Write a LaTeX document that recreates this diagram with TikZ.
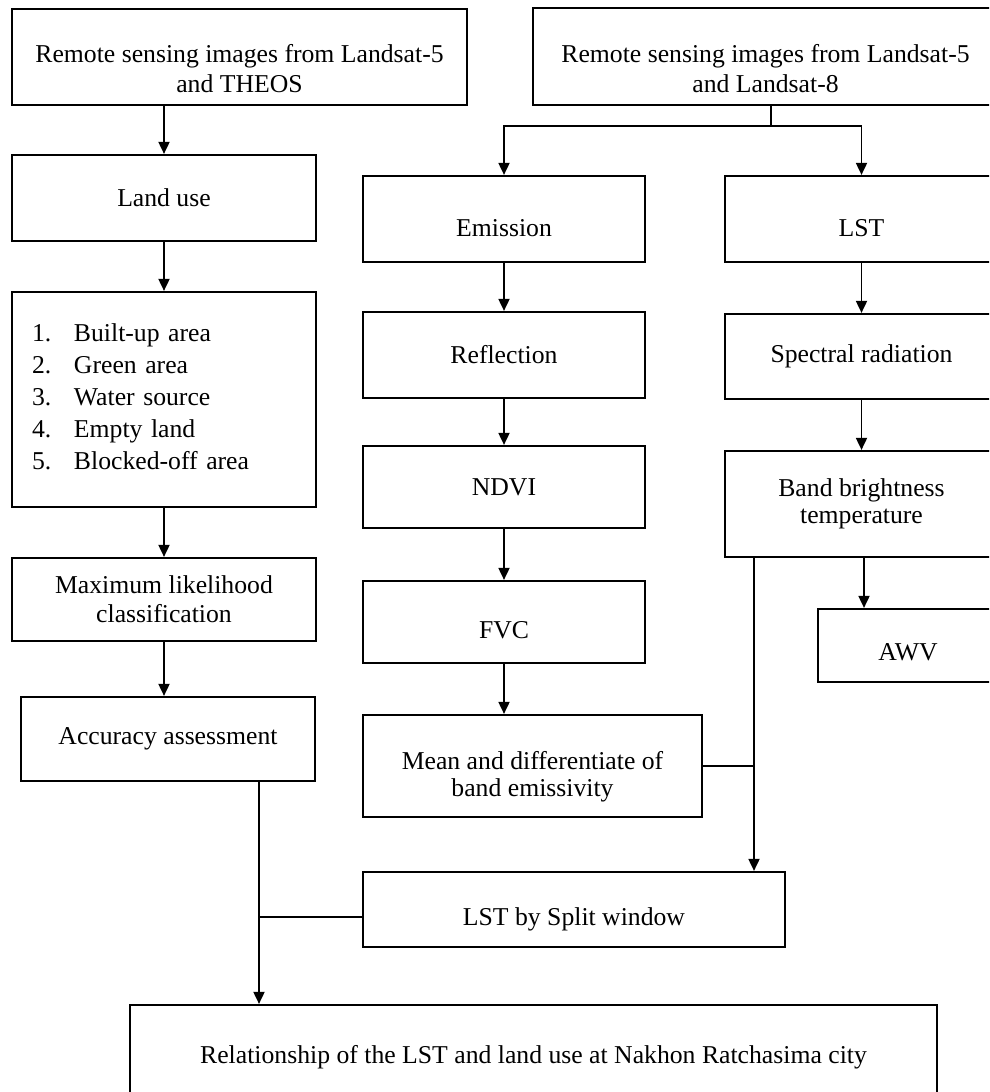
\documentclass[tikz,border=0pt]{standalone}
\usepackage{fontspec}
\setmainfont{Liberation Serif}
\usetikzlibrary{arrows.meta}
\newcommand{\lowtext}[2]{\raisebox{#1}[0pt][0pt]{\begin{tabular}{@{}c@{}}#2\end{tabular}}}
\begin{document}
\begin{tikzpicture}[x=1pt,y=-1pt,
  box/.style={draw, line width=2.2pt, inner sep=0pt, align=center,
    font=\fontsize{25.7}{29}\selectfont},
  lowered/.style={text height=#1, text depth=0pt},
  conn/.style={line width=1.8pt},
  arr/.style={conn, -{Triangle[length=12pt,width=11pt]}}]
\useasboundingbox (0,0) rectangle (989,1092);
\fill[white] (0,0) rectangle (989,1092);
\clip (0,0) rectangle (989,1092);

% left column
\node[box, minimum width=455, minimum height=96, font=\fontsize{25.7}{30}\selectfont] (A) at (239.5,57)
  {\lowtext{-21pt}{Remote sensing images from Landsat-5\\and THEOS}};
\node[box, minimum width=304, minimum height=86] (landuse) at (164,198) {Land use};
\node[box, minimum width=304, minimum height=215, text width=264, inner xsep=20pt, align=left,
  font=\fontsize{25.7}{32}\selectfont] (list) at (164,399.5)
  {\begin{tabular}{@{}l@{}l@{}}
   \makebox[42pt][l]{1.}&Built-up area\\
   \makebox[42pt][l]{2.}&Green area\\
   \makebox[42pt][l]{3.}&Water source\\
   \makebox[42pt][l]{4.}&Empty land\\
   \makebox[42pt][l]{5.}&Blocked-off area
   \end{tabular}};
\node[box, minimum width=304, minimum height=83] (maxl) at (164,599.5) {Maximum likelihood\\classification};
\node[box, minimum width=294, minimum height=84] (acc) at (168,739) {Accuracy assessment};

% right top
\node[box, minimum width=465, minimum height=97, font=\fontsize{25.7}{30}\selectfont] (B) at (765.5,56.5)
  {\lowtext{-21pt}{Remote sensing images from Landsat-5\\and Landsat-8}};

% middle column
\node[box, lowered=34pt, minimum width=282, minimum height=86] (emission) at (504,219) {Emission};
\node[box, minimum width=282, minimum height=86] (reflection) at (504,355) {Reflection};
\node[box, minimum width=282, minimum height=82] (ndvi) at (504,487) {NDVI};
\node[box, lowered=32pt, minimum width=282, minimum height=82] (fvc) at (504,622) {FVC};
\node[box, minimum width=339, minimum height=102, font=\fontsize{25.7}{27}\selectfont] (mean) at (532.5,766)
  {\lowtext{-18pt}{Mean and differentiate of\\band emissivity}};
\node[box, lowered=31pt, minimum width=422, minimum height=75] (split) at (574,909.5) {LST by Split window};

% right column
\node[box, lowered=34pt, minimum width=273, minimum height=86] (lst) at (861.5,219) {LST};
\node[box, minimum width=273, minimum height=85] (spectral) at (861.5,356.5) {Spectral radiation};
\node[box, minimum width=273, minimum height=106, font=\fontsize{25.7}{27}\selectfont] (band) at (861.5,504) {Band brightness\\temperature};
\node[box, lowered=29pt, minimum width=180, minimum height=73] (awv) at (908,645.5) {AWV};

% final
\node[box, minimum width=807, minimum height=105] (final) at (533.5,1057.5) {Relationship of the LST and land use at Nakhon Ratchasima city};

% connectors: left column
\draw[arr] (A.south -| landuse.north) -- (landuse.north);
\draw[arr] (landuse.south) -- (list.north);
\draw[arr] (list.south) -- (maxl.north);
\draw[arr] (maxl.south) -- (maxl.south |- acc.north);

% split from B
\coordinate (bsplit) at (771,126);
\draw[conn] (B.south -| bsplit) -- (bsplit);
\draw[arr] (bsplit) -| (emission.north);
\draw[arr] (bsplit) -| (lst.north);

% middle column
\draw[arr] (emission.south) -- (reflection.north);
\draw[arr] (reflection.south) -- (ndvi.north);
\draw[arr] (ndvi.south) -- (fvc.north);
\draw[arr] (fvc.south) -- (fvc.south |- mean.north);

% right column
\draw[arr] (lst.south) -- (spectral.north);
\draw[arr] (spectral.south) -- (band.north);
\draw[arr] (band.south -| 864,0) -- (awv.north -| 864,0);

% band brightness + mean -> split
\coordinate (vx) at (754,767);
\draw[arr] (vx |- band.south) -- (vx |- split.north);
\draw[conn] (mean.east) -- (mean.east -| vx);

% accuracy + split -> final
\coordinate (hx) at (259,917);
\draw[arr] (hx |- acc.south) -- (hx |- final.north);
\draw[conn] (hx) -- (hx -| split.west);
\end{tikzpicture}
\end{document}
